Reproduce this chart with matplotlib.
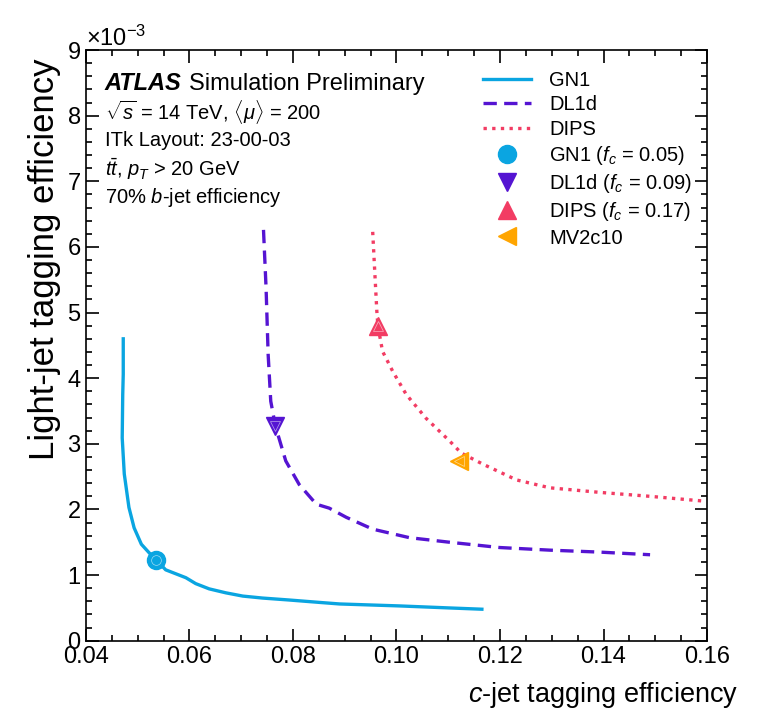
import matplotlib
matplotlib.use("Agg")
import matplotlib.pyplot as plt
from matplotlib.ticker import MultipleLocator, ScalarFormatter, FormatStrFormatter

plt.rcParams['font.family'] = ['Liberation Sans', 'DejaVu Sans']
plt.rcParams['mathtext.fontset'] = 'custom'
plt.rcParams['mathtext.rm'] = 'Liberation Sans'
plt.rcParams['mathtext.it'] = 'Liberation Sans:italic'
plt.rcParams['mathtext.bf'] = 'Liberation Sans:bold'

# ROC curves: c-jet efficiency vs light-jet efficiency (x 1e-3)
gn1_c = [0.0472, 0.0472, 0.0471, 0.0470, 0.0474, 0.0483, 0.0493, 0.0507, 0.0522,
         0.0537, 0.0554, 0.0593, 0.0612, 0.0638, 0.0670, 0.0703, 0.0741, 0.0793,
         0.0857, 0.0890, 0.1006, 0.1100, 0.1165]
gn1_l = [4.60, 4.06, 3.75, 3.09, 2.54, 2.03, 1.72, 1.47, 1.34,
         1.22, 1.08, 0.96, 0.87, 0.79, 0.73, 0.68, 0.65, 0.62,
         0.58, 0.56, 0.53, 0.50, 0.48]

dl1d_c = [0.0743, 0.0748, 0.0752, 0.0757, 0.0766, 0.0786, 0.0812, 0.0845, 0.0870,
          0.0903, 0.0954, 0.1025, 0.1103, 0.1199, 0.1296, 0.1393, 0.1490]
dl1d_l = [6.26, 5.37, 4.36, 3.65, 3.27, 2.74, 2.38, 2.08, 2.02,
          1.88, 1.70, 1.57, 1.50, 1.42, 1.38, 1.35, 1.31]

dips_c = [0.0954, 0.0958, 0.0962, 0.0964, 0.0973, 0.0993, 0.1019, 0.1057, 0.1103,
          0.1125, 0.1167, 0.1232, 0.1296, 0.1393, 0.1490, 0.1590]
dips_l = [6.23, 5.62, 5.02, 4.80, 4.41, 4.10, 3.75, 3.39, 3.04,
          2.86, 2.69, 2.45, 2.33, 2.26, 2.20, 2.13]

# working points
wp_names = ['GN1 ($f_c$ = 0.05)', 'DL1d ($f_c$ = 0.09)', 'DIPS ($f_c$ = 0.17)', 'MV2c10']
wp_c = [0.0535, 0.0766, 0.0964, 0.1120]
wp_l = [1.23, 3.27, 4.80, 2.74]

c_gn1 = '#0aa5e1'
c_dl1d = '#5514d2'
c_dips = '#f23c63'
c_mv2 = '#ffa500'

fig = plt.figure(figsize=(7.65, 7.15), dpi=100)
ax = fig.add_axes([0.1124, 0.1039, 0.8118, 0.8261])

ax.plot(gn1_c, [v * 1e-3 for v in gn1_l], color=c_gn1, lw=2.4, ls='-', label='GN1')
ax.plot(dl1d_c, [v * 1e-3 for v in dl1d_l], color=c_dl1d, lw=2.4, ls=(0, (4, 2.2)), label='DL1d')
ax.plot(dips_c, [v * 1e-3 for v in dips_l], color=c_dips, lw=2.4, ls=(0, (1, 1.6)), label='DIPS')

markers = ['o', 'v', '^', '<']
colors = [c_gn1, c_dl1d, c_dips, c_mv2]
for name, xc, yl, m, col in zip(wp_names, wp_c, wp_l, markers, colors):
    ax.plot(xc, yl * 1e-3, marker=m, ms=13, color=col, ls='none', label=name, zorder=5)
    ax.plot(xc, yl * 1e-3, marker=m, ms=7, mfc='none', mec='white', mew=0.5,
            alpha=0.6, ls='none', zorder=6)

ax.set_xlim(0.04, 0.16)
ax.set_ylim(0, 9e-3)
ax.xaxis.set_major_locator(MultipleLocator(0.02))
ax.xaxis.set_minor_locator(MultipleLocator(0.005))
ax.yaxis.set_major_locator(MultipleLocator(1e-3))
ax.yaxis.set_minor_locator(MultipleLocator(2e-4))
fmt = ScalarFormatter(useMathText=True)
fmt.set_powerlimits((-3, -3))
ax.yaxis.set_major_formatter(fmt)
ax.yaxis.get_offset_text().set_fontsize(17)
ax.xaxis.set_major_formatter(FormatStrFormatter('%.2f'))
ax.tick_params(which='both', direction='in', top=True, right=True, labelsize=17, width=1.2)
ax.tick_params(which='major', length=9)
ax.tick_params(which='minor', length=4.5)
for s in ax.spines.values():
    s.set_linewidth(1.2)

ax.set_xlabel('$c$-jet tagging efficiency', fontsize=19.5, ha='right', x=1.05, labelpad=9)
ax.set_ylabel('Light-jet tagging efficiency', fontsize=25, ha='right', y=0.985)

t1 = ax.text(0.03, 0.943, 'ATLAS', transform=ax.transAxes, fontsize=17, va='center',
             fontweight='bold', style='italic')
fig.canvas.draw()
bb = t1.get_window_extent().transformed(ax.transAxes.inverted())
ax.text(bb.x1 + 0.012, 0.943, 'Simulation Preliminary', transform=ax.transAxes,
        fontsize=17, va='center')
info = [r'$\sqrt{s}$ = 14 TeV, $\langle\mu\rangle$ = 200',
        'ITk Layout: 23-00-03',
        r'$t\bar{t}$, $p_T$ > 20 GeV',
        r'70% $b$-jet efficiency']
for i, t in enumerate(info):
    ax.text(0.03, 0.895 - i * 0.048, t, transform=ax.transAxes, fontsize=14.5, va='center')

ax.legend(loc='upper left', bbox_to_anchor=(0.61, 0.995), frameon=False, fontsize=14.5,
          handlelength=2.4, labelspacing=0.26, handletextpad=0.9)

fig.savefig('out.png', dpi=100)
